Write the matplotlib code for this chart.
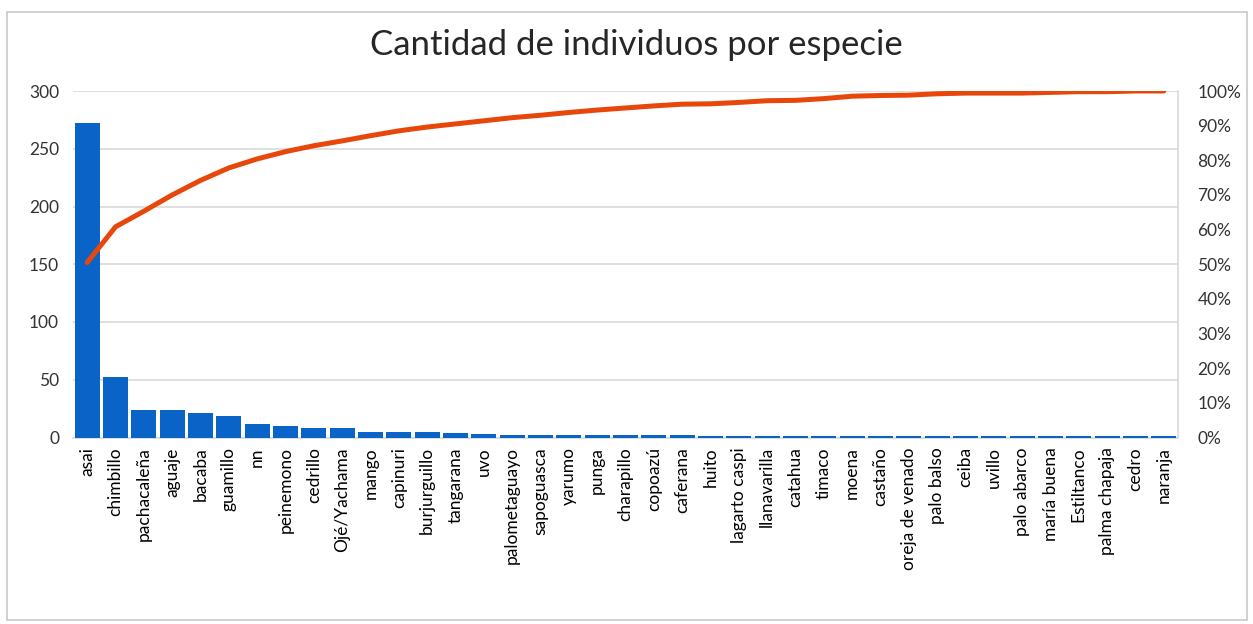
import matplotlib.pyplot as plt
import matplotlib.patches as mpatches
from matplotlib.ticker import PercentFormatter
import numpy as np

plt.rcParams['font.family'] = ['Lato', 'DejaVu Sans']

especies = ['asai', 'chimbillo', 'pachacaleña', 'aguaje', 'bacaba', 'guamillo', 'nn',
            'peinemono', 'cedrillo', 'Ojé/Yachama', 'mango', 'capinuri', 'burjurguillo',
            'tangarana', 'uvo', 'palometaguayo', 'sapoguasca', 'yarumo', 'punga',
            'charapillo', 'copoazú', 'caferana', 'huito', 'lagarto caspi', 'llanavarilla',
            'catahua', 'timaco', 'moena', 'castaño', 'oreja de venado', 'palo balso',
            'ceiba', 'uvillo', 'palo abarco', 'maría buena', 'Estiltanco',
            'palma chapaja', 'cedro', 'naranja']

individuos = [272, 52, 24, 24, 21, 19, 12, 10, 8, 8, 5, 5, 5, 4, 3,
              2, 2, 2, 2, 2, 2, 2,
              1, 1, 1, 1, 1, 1, 1, 1, 1, 1, 1, 1, 1, 1, 1, 1, 1]

# porcentaje acumulado (curva de Pareto)
acumulado = [50.5, 60.8, 65.3, 70.0, 74.2, 77.8, 80.4, 82.5, 84.2, 85.6,
             87.1, 88.5, 89.6, 90.5, 91.4, 92.3, 93.0, 93.8, 94.5, 95.1,
             95.7, 96.2, 96.3, 96.7, 97.2, 97.3, 97.8, 98.5, 98.7, 98.8,
             99.2, 99.4, 99.4, 99.4, 99.6, 99.8, 99.8, 100.0, 100.0]

azul = '#0a64c8'
naranja = '#e8470c'
texto = '#333333'

fig = plt.figure(figsize=(12.53, 6.24), dpi=100)
fig.patches.append(mpatches.Rectangle((7 / 1253, 4 / 624), 1240 / 1253, 608 / 624,
                                      transform=fig.transFigure, fill=False,
                                      edgecolor='#c8c8c8', linewidth=1.2))

ax = fig.add_axes([73 / 1253, 1 - 437.5 / 624, 1105 / 1253, 346.5 / 624])
x = np.arange(len(especies))
ax.bar(x, individuos, width=0.88, color=azul, zorder=3)
ax.set_xlim(-0.5, len(especies) - 0.5)
ax.set_ylim(0, 300)
ax.set_yticks(range(0, 301, 50))
ax.yaxis.grid(True, color='#d9d9d9', linewidth=1.2, zorder=0)
ax.set_xticks(x)
ax.set_xticklabels(especies, rotation=90, fontsize=12.5, color='black')
ax.tick_params(axis='y', length=0, labelsize=12.5, colors=texto, pad=10)
ax.tick_params(axis='x', length=0, pad=7, colors='black')
for side in ['top', 'left', 'right']:
    ax.spines[side].set_visible(False)
ax.spines['bottom'].set_color('#d9d9d9')
ax.spines['bottom'].set_linewidth(1.2)

ax2 = ax.twinx()
ax2.plot(x, np.array(acumulado) / 100, color=naranja, linewidth=3.6, zorder=4,
         solid_capstyle='round')
ax2.set_ylim(0, 1)
ax2.set_yticks(np.arange(0, 1.01, 0.1))
ax2.yaxis.set_major_formatter(PercentFormatter(1.0, decimals=0))
ax2.tick_params(axis='y', length=0, labelsize=12.5, colors=texto, pad=14)
for side in ['top', 'left', 'bottom']:
    ax2.spines[side].set_visible(False)
ax2.spines['right'].set_color('#d9d9d9')
ax2.spines['right'].set_linewidth(1.2)

fig.text(0.508, 1 - 45 / 624, 'Cantidad de individuos por especie', ha='center',
         va='center', fontsize=25, color='#262626')

fig.savefig('out.png', dpi=100)
